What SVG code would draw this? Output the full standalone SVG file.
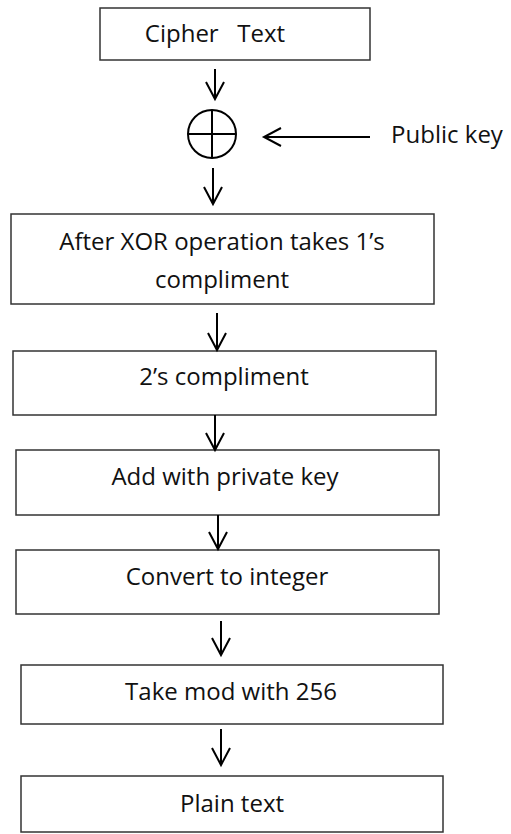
<svg xmlns="http://www.w3.org/2000/svg" width="511" height="834" viewBox="0 0 511 834">
<style>
.box{fill:#fff;stroke:#333;stroke-width:1.5}
.t{font-family:"Open Sans","Liberation Sans",sans-serif;font-size:24px;fill:#111;text-anchor:middle;white-space:pre}
.c{stroke:#000;stroke-width:2;fill:none}
</style>
<defs>
<marker id="ah" markerWidth="22" markerHeight="22" refX="18" refY="10" orient="auto" markerUnits="userSpaceOnUse">
<path d="M1,1 L18,10 L1,19" fill="none" stroke="#000" stroke-width="2"/>
</marker>
</defs>
<rect width="511" height="834" fill="#fff"/>
<g id="cipher"><rect class="box" x="100" y="8" width="270" height="52"/><text class="t" x="215" y="42" xml:space="preserve">Cipher   Text</text></g>
<g id="xor"><circle cx="212" cy="134" r="24" class="c"/><line x1="212" y1="110" x2="212" y2="158" class="c"/><line x1="188" y1="134" x2="236" y2="134" class="c"/></g>
<g id="pubkey"><text class="t" x="447" y="143">Public key</text></g>
<g id="n1"><rect class="box" x="11" y="214" width="423" height="90"/><text class="t" x="222" y="250">After XOR operation takes 1’s</text><text class="t" x="222" y="288">compliment</text></g>
<g id="n2"><rect class="box" x="13" y="351" width="423" height="64"/><text class="t" x="224" y="385">2’s compliment</text></g>
<g id="n3"><rect class="box" x="16" y="450" width="423" height="65"/><text class="t" x="225" y="485">Add with private key</text></g>
<g id="n4"><rect class="box" x="16" y="550" width="423" height="64"/><text class="t" x="227" y="585">Convert to integer</text></g>
<g id="n5"><rect class="box" x="21" y="665" width="422" height="59"/><text class="t" x="231" y="700">Take mod with 256</text></g>
<g id="n6"><rect class="box" x="21" y="776" width="422" height="56"/><text class="t" x="232" y="812">Plain text</text></g>
<g id="connectors">
<line class="c" x1="215" y1="69" x2="215" y2="99" marker-end="url(#ah)"/>
<line class="c" x1="370" y1="137" x2="264" y2="137" marker-end="url(#ah)"/>
<line class="c" x1="213" y1="168" x2="213" y2="204" marker-end="url(#ah)"/>
<line class="c" x1="217" y1="313" x2="217" y2="350" marker-end="url(#ah)"/>
<line class="c" x1="215" y1="415" x2="215" y2="450" marker-end="url(#ah)"/>
<line class="c" x1="218" y1="515" x2="218" y2="549" marker-end="url(#ah)"/>
<line class="c" x1="221" y1="621" x2="221" y2="655" marker-end="url(#ah)"/>
<line class="c" x1="221" y1="729" x2="221" y2="765" marker-end="url(#ah)"/>
</g>
</svg>
